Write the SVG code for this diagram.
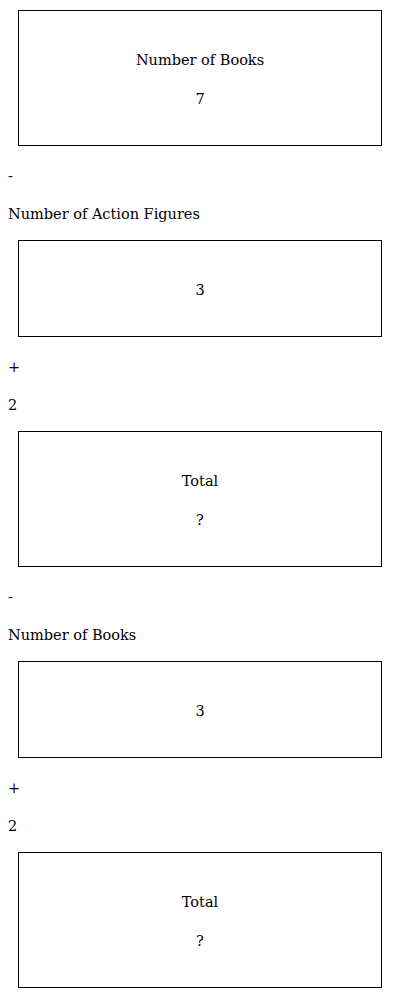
<svg xmlns="http://www.w3.org/2000/svg" width="400" height="998" viewBox="0 0 400 998">
<style>
.box{fill:none;stroke:#000;stroke-width:1}
text{font-family:"DejaVu Serif",serif;font-size:14.5px;fill:#000}
.c{text-anchor:middle}
</style>
<rect width="400" height="998" fill="#fff"/>
<g id="n1"><rect class="box" x="18.5" y="10.5" width="363" height="135"/><text class="c" x="200" y="65">Number of Books</text><text class="c" x="200" y="104">7</text></g>
<g id="op1"><text x="8" y="181">-</text></g>
<g id="l1"><text x="8" y="219">Number of Action Figures</text></g>
<g id="n2"><rect class="box" x="18.5" y="240.5" width="363" height="96"/><text class="c" x="200" y="295">3</text></g>
<g id="op2"><text x="8" y="372">+</text></g>
<g id="l2"><text x="8" y="410">2</text></g>
<g id="n3"><rect class="box" x="18.5" y="431.5" width="363" height="135"/><text class="c" x="200" y="486">Total</text><text class="c" x="200" y="525">?</text></g>
<g id="op3"><text x="8" y="602">-</text></g>
<g id="l3"><text x="8" y="640">Number of Books</text></g>
<g id="n4"><rect class="box" x="18.5" y="661.5" width="363" height="96"/><text class="c" x="200" y="716">3</text></g>
<g id="op4"><text x="8" y="793">+</text></g>
<g id="l4"><text x="8" y="831">2</text></g>
<g id="n5"><rect class="box" x="18.5" y="852.5" width="363" height="135"/><text class="c" x="200" y="907">Total</text><text class="c" x="200" y="946">?</text></g>
<g id="connectors"></g>
</svg>
